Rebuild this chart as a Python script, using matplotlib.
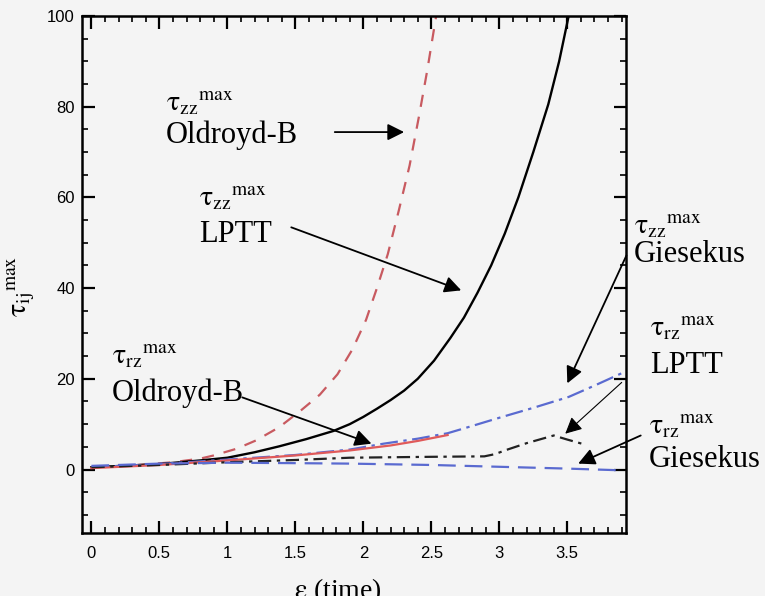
import matplotlib
matplotlib.use('Agg')
import matplotlib.pyplot as plt
from matplotlib.ticker import MultipleLocator

# values
# tau_zz, Oldroyd-B (red dashed)
eps_zz_ob = [0.0, 0.3, 0.6, 0.8, 0.9, 1.07, 1.21, 1.38, 1.54, 1.68, 1.81, 1.92, 2.02, 2.10,
             2.18, 2.26, 2.34, 2.41, 2.47, 2.53, 2.56]
tau_zz_ob = [0.5, 0.9, 1.6, 2.4, 3.1, 4.6, 6.4, 9.3, 13.0, 16.5, 21.0, 26.5, 33.0, 40.0,
             47.5, 57.0, 67.0, 78.0, 88.0, 99.0, 104.0]

# tau_zz, LPTT (black solid)
eps_zz_lptt = [0.0, 0.3, 0.5, 0.8, 1.0, 1.2, 1.38, 1.58, 1.78, 1.9, 2.0, 2.1, 2.2, 2.3, 2.4,
               2.52, 2.64, 2.74, 2.84, 2.94, 3.04, 3.14, 3.25, 3.36, 3.44, 3.51, 3.53]
tau_zz_lptt = [0.5, 0.9, 1.2, 2.0, 2.6, 3.8, 5.1, 6.7, 8.5, 10.0, 11.6, 13.4, 15.3, 17.4, 20.0,
               24.0, 29.0, 33.5, 39.0, 45.0, 52.0, 60.0, 70.0, 80.5, 90.0, 100.0, 103.0]

# tau_zz, Giesekus (blue dash-dot)
eps_zz_gie = [0.0, 0.5, 1.0, 1.5, 1.9, 2.15, 2.4, 2.62, 2.8, 3.01, 3.25, 3.51, 3.7, 3.92]
tau_zz_gie = [0.5, 1.2, 2.2, 3.2, 4.4, 5.7, 6.8, 8.0, 9.6, 11.5, 13.6, 16.0, 18.5, 21.5]

# tau_rz, Oldroyd-B (red solid)
eps_rz_ob = [0.0, 0.5, 1.0, 1.5, 1.9, 2.2, 2.4, 2.62]
tau_rz_ob = [0.3, 1.0, 2.0, 3.1, 4.2, 5.3, 6.3, 7.6]

# tau_rz, LPTT (black dash-dot)
eps_rz_lptt = [0.0, 0.5, 1.0, 1.5, 1.9, 2.5, 2.89, 2.97, 3.04, 3.2, 3.4, 3.5, 3.63]
tau_rz_lptt = [0.5, 1.0, 1.6, 2.1, 2.6, 2.8, 2.9, 3.4, 4.2, 5.8, 7.5, 6.6, 5.5]

# tau_rz, Giesekus (blue dashed)
eps_rz_gie = [0.0, 0.5, 1.0, 1.5, 1.9, 2.5, 3.0, 3.5, 3.92]
tau_rz_gie = [0.8, 1.3, 1.5, 1.4, 1.3, 1.0, 0.6, 0.2, -0.2]

bg = '#f4f4f4'
plt.rcParams['mathtext.fontset'] = 'stix'
plt.rcParams['font.family'] = ['Liberation Sans', 'DejaVu Sans']

fig = plt.figure(figsize=(7.65, 5.96), dpi=100, facecolor=bg)
ax = fig.add_axes([0.107, 0.1057, 0.711, 0.8675], facecolor=bg)

ax.plot(eps_zz_ob, tau_zz_ob, color='#c85a60', lw=1.6, dashes=(5.5, 4.5))
ax.plot(eps_zz_lptt, tau_zz_lptt, color='black', lw=1.7)
ax.plot(eps_zz_gie, tau_zz_gie, color='#5a6ad0', lw=1.6, dashes=(8, 2.5, 1.5, 2.5))
ax.plot(eps_rz_ob, tau_rz_ob, color='#e05a5a', lw=1.6)
ax.plot(eps_rz_lptt, tau_rz_lptt, color='#222222', lw=1.6, dashes=(6, 2.5, 1.5, 2.5))
ax.plot(eps_rz_gie, tau_rz_gie, color='#5a6ad0', lw=1.6, dashes=(8, 4))

ax.set_xlim(-0.07, 3.93)
ax.set_ylim(-14, 100)
ax.xaxis.set_minor_locator(MultipleLocator(0.1))
ax.yaxis.set_minor_locator(MultipleLocator(5))
ax.set_xticks([0, 0.5, 1, 1.5, 2, 2.5, 3, 3.5])
ax.set_xticklabels(['0', '0.5', '1', '1.5', '2', '2.5', '3', '3.5'])
ax.set_yticks([0, 20, 40, 60, 80, 100])
ax.tick_params(which='both', direction='in', top=True, right=True, labelsize=12, width=1.6)
ax.tick_params(axis='x', which='both', pad=9)
ax.tick_params(axis='y', which='both', pad=5)
ax.tick_params(which='major', length=9)
ax.tick_params(which='minor', length=4.5, width=1.2)
for s in ax.spines.values():
    s.set_linewidth(1.8)

serif = ['Liberation Serif', 'DejaVu Serif']
ax.set_ylabel(r'$\mathrm{\tau}_{\mathrm{ij}}{}^{\mathrm{max}}$', fontsize=20, rotation=90)
ax.yaxis.set_label_coords(-0.085, 0.476)
fig.text(338 / 765, 1 - 576 / 596, r'$\mathrm{\epsilon}$ (time)', family=serif, fontsize=20,
         ha='center', va='top')

# labels: (tau text, name, x, y of tau, y of name)
zz = r'$\mathrm{\tau}_{\mathrm{zz}}{}^{\mathrm{max}}$'
rz = r'$\mathrm{\tau}_{\mathrm{rz}}{}^{\mathrm{max}}$'
labels = [
    (zz, 'Oldroyd-B', 0.548, 79.2, 72.0),
    (zz, 'LPTT', 0.791, 58.3, 50.2),
    (zz, 'Giesekus', 3.99, 52.1, 45.8),
    (rz, 'LPTT', 4.11, 29.6, 21.2),
    (rz, 'Giesekus', 4.10, 7.9, 0.5),
    (rz, 'Oldroyd-B', 0.15, 23.4, 15.2),
]
for tau, name, x, yt, yn in labels:
    ax.text(x, yt, tau, fontsize=20, va='baseline', ha='left', clip_on=False)
    ax.text(x, yn, name, family=serif, fontsize=22, va='baseline', ha='left', clip_on=False)

# arrows: tail -> head
arrows = [
    ((1.79, 74.4), (2.30, 74.4), 1.3),
    ((1.47, 53.4), (2.72, 39.5), 1.3),
    ((3.935, 47.2), (3.50, 19.0), 1.3),
    ((3.90, 19.2), (3.485, 7.9), 0.8),
    ((4.04, 7.5), (3.58, 1.3), 1.3),
    ((1.11, 15.9), (2.06, 5.7), 1.3),
]
for tail, head, lw in arrows:
    ax.annotate('', xy=head, xytext=tail, annotation_clip=False,
                arrowprops=dict(arrowstyle='-|>', color='black', lw=lw,
                                mutation_scale=25, shrinkA=0, shrinkB=0))

fig.savefig('out.png', dpi=100, facecolor=bg)
